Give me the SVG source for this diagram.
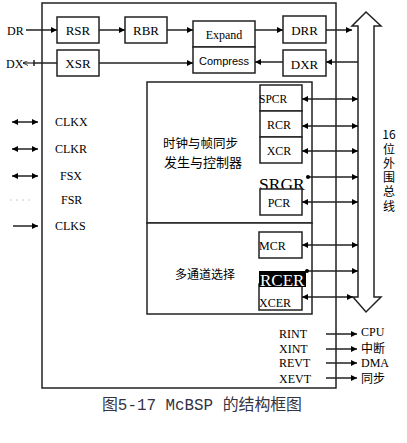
<svg xmlns="http://www.w3.org/2000/svg" width="407" height="443" viewBox="0 0 407 443">
<defs>
<marker id="ah" viewBox="0 0 10 10" refX="10" refY="5" markerWidth="8" markerHeight="6" markerUnits="userSpaceOnUse" orient="auto-start-reverse"><path d="M0,0 L10,5 L0,10 z" fill="#000"/></marker>
<marker id="as" viewBox="0 0 10 10" refX="10" refY="5" markerWidth="5" markerHeight="5" markerUnits="userSpaceOnUse" orient="auto-start-reverse"><path d="M0,0 L10,5 L0,10" fill="none" stroke="#000" stroke-width="1.5"/></marker>
</defs>
<style>
.box{fill:#fff;stroke:#222;stroke-width:1.5}
.ln{stroke:#222;stroke-width:1.5;fill:none}
.t{font-family:"Liberation Serif",serif;font-size:13px;fill:#000}
.r{font-family:"Liberation Serif",serif;font-size:12px;fill:#000}
.s{font-family:"Liberation Sans",sans-serif;font-size:11px;fill:#000}
.cn{font-family:"Noto Sans CJK SC",sans-serif;font-size:12.5px;fill:#000}
</style>
<rect width="407" height="443" fill="#fff"/>
<g id="main"><rect class="box" x="42" y="3" width="294" height="385"/></g>
<g id="bus"><polygon class="box" points="358,297 358,26 352,26 366,12 381,26 374,26 374,297 381,297 366,312 353,297"/></g>
<g id="rsr"><rect class="box" x="57" y="17" width="42" height="26"/><text class="t" x="78" y="35" text-anchor="middle">RSR</text></g>
<g id="rbr"><rect class="box" x="125" y="17" width="42" height="26"/><text class="t" x="146" y="35" text-anchor="middle">RBR</text></g>
<g id="xsr"><rect class="box" x="57" y="50" width="42" height="26"/><text class="t" x="78" y="68" text-anchor="middle">XSR</text></g>
<g id="expand"><rect class="box" x="193" y="21" width="62" height="26"/><text class="r" x="224" y="39" text-anchor="middle">Expand</text></g>
<g id="compress"><rect class="box" x="193" y="47" width="62" height="26"/><text class="s" x="224" y="65" text-anchor="middle">Compress</text></g>
<g id="drr"><rect class="box" x="283" y="16" width="43" height="27"/><text class="t" x="304.5" y="35" text-anchor="middle">DRR</text></g>
<g id="dxr"><rect class="box" x="283" y="50" width="43" height="26"/><text class="t" x="304.5" y="69" text-anchor="middle">DXR</text></g>
<g id="clock"><rect class="box" x="147" y="82" width="165" height="141"/>
<text class="cn" x="163" y="148">时钟与帧同步</text>
<text class="cn" x="164" y="167" style="font-size:13px">发生与控制器</text></g>
<g id="multi"><rect class="box" x="147" y="223" width="165" height="91"/>
<text class="cn" x="175" y="279" style="font-size:12px">多通道选择</text></g>
<g id="spcr"><rect class="box" x="260" y="85" width="42" height="26"/><text class="r" x="259" y="103" style="font-size:11.5px">SPCR</text></g>
<g id="rcr"><rect class="box" x="260" y="111" width="42" height="26"/><text class="r" x="279" y="129" text-anchor="middle">RCR</text></g>
<g id="xcr"><rect class="box" x="260" y="137" width="42" height="26"/><text class="r" x="279" y="155" text-anchor="middle">XCR</text></g>
<g id="srgr"><text class="t" x="259" y="190" style="font-size:17.5px">SRGR</text></g>
<g id="pcr"><rect class="box" x="260" y="189" width="42" height="26"/><text class="r" x="279" y="207" text-anchor="middle">PCR</text></g>
<g id="mcr"><rect class="box" x="259" y="232" width="43" height="26"/><text class="r" x="259" y="250">MCR</text></g>
<g id="xcer"><rect class="box" x="259" y="284" width="43" height="26"/><text class="r" x="259" y="307">XCER</text></g>
<g id="rcer"><rect x="259" y="271" width="47" height="16" fill="#000"/><text class="t" x="260" y="286" style="font-size:17px;fill:#fff">RCER</text></g>
<g id="labels">
<text class="t" x="7" y="35" style="font-size:12px">DR</text>
<text class="t" x="6" y="68" style="font-size:12px">DX</text>
<text class="r" x="55" y="126">CLKX</text>
<text class="r" x="55" y="153">CLKR</text>
<text class="r" x="60" y="180">FSX</text>
<text class="r" x="61" y="204">FSR</text>
<text class="r" x="55" y="230">CLKS</text>
<text class="r" x="279" y="338">RINT</text>
<text class="r" x="279" y="353">XINT</text>
<text class="r" x="279" y="367">REVT</text>
<text class="r" x="279" y="383">XEVT</text>
<text class="r" x="361" y="336">CPU</text>
<text class="cn" x="361" y="353" style="font-size:12px">中断</text>
<text class="r" x="361" y="367">DMA</text>
<text class="cn" x="361" y="383" style="font-size:12px">同步</text>
<text class="cn" x="389" y="139" text-anchor="middle" style="font-size:12px">16</text>
<text class="cn" x="389" y="143" style="font-size:12px;writing-mode:vertical-rl;letter-spacing:2.3px">位外围总线</text>
<text x="102" y="410" textLength="200" lengthAdjust="spacingAndGlyphs" style="font-family:'Liberation Mono','Noto Sans CJK SC',monospace;font-size:16px;fill:#334">图5-17 McBSP 的结构框图</text>
</g>
<g id="connectors">
<line class="ln" x1="26" y1="30" x2="57" y2="30" marker-end="url(#ah)"/>
<line class="ln" x1="99" y1="30" x2="125" y2="30" marker-end="url(#ah)"/>
<line class="ln" x1="167" y1="30" x2="193" y2="30" marker-end="url(#ah)"/>
<line class="ln" x1="255" y1="30" x2="283" y2="30" marker-end="url(#ah)"/>
<line class="ln" x1="326" y1="30" x2="352" y2="30" marker-end="url(#ah)"/>
<line class="ln" x1="57" y1="63" x2="34" y2="63"/>
<line class="ln" x1="34" y1="60" x2="34" y2="66"/>
<line x1="34" y1="63" x2="23" y2="63" stroke="#000" stroke-width="1" marker-end="url(#as)"/>
<line class="ln" x1="99" y1="63" x2="193" y2="63" marker-end="url(#ah)"/>
<line class="ln" x1="283" y1="62" x2="255" y2="62" marker-end="url(#ah)"/>
<line class="ln" x1="358" y1="62" x2="326" y2="62" marker-end="url(#ah)"/>
<line class="ln" x1="12" y1="122" x2="38" y2="122" marker-start="url(#ah)" marker-end="url(#ah)"/>
<line class="ln" x1="12" y1="149" x2="38" y2="149" marker-start="url(#ah)" marker-end="url(#ah)"/>
<line class="ln" x1="12" y1="176" x2="38" y2="176" marker-start="url(#ah)" marker-end="url(#ah)"/>
<line x1="10" y1="200" x2="32" y2="200" stroke="#ccc" stroke-width="1" stroke-dasharray="2,4"/>
<line class="ln" x1="13" y1="226" x2="38" y2="226" marker-end="url(#ah)"/>
<line class="ln" x1="302" y1="99" x2="358" y2="99" marker-start="url(#ah)" marker-end="url(#ah)"/>
<line class="ln" x1="302" y1="126" x2="358" y2="126" marker-start="url(#ah)" marker-end="url(#ah)"/>
<line class="ln" x1="302" y1="151" x2="358" y2="151" marker-start="url(#ah)" marker-end="url(#ah)"/>
<line class="ln" x1="308" y1="177" x2="358" y2="177" marker-end="url(#ah)"/>
<circle cx="308" cy="177" r="2" fill="#000"/>
<line class="ln" x1="302" y1="202" x2="358" y2="202" marker-start="url(#ah)" marker-end="url(#ah)"/>
<line class="ln" x1="302" y1="245" x2="358" y2="245" marker-start="url(#ah)" marker-end="url(#ah)"/>
<line class="ln" x1="306" y1="271" x2="358" y2="271" marker-end="url(#ah)"/>
<circle cx="307" cy="271" r="2" fill="#000"/>
<line class="ln" x1="302" y1="297" x2="353" y2="297" marker-start="url(#ah)" marker-end="url(#ah)"/>
<line class="ln" x1="326" y1="334" x2="357" y2="334" marker-end="url(#ah)"/>
<line class="ln" x1="326" y1="349" x2="357" y2="349" marker-end="url(#ah)"/>
<line class="ln" x1="326" y1="363" x2="357" y2="363" marker-end="url(#ah)"/>
<line class="ln" x1="326" y1="378" x2="357" y2="378" marker-end="url(#ah)"/>
</g>
</svg>
